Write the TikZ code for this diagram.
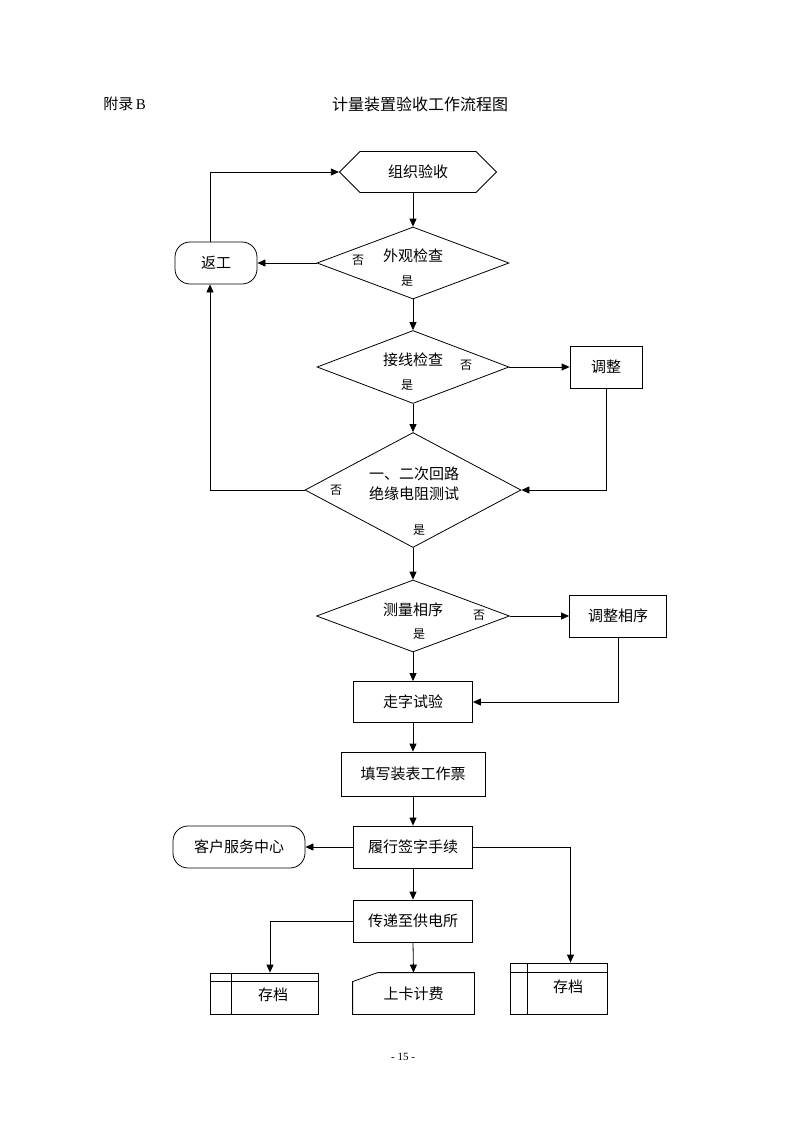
\documentclass[tikz,border=0pt]{standalone}
\usepackage{fontspec}
\setmainfont{Liberation Serif}
\newfontfamily\cjk{Noto Sans CJK SC}
\usetikzlibrary{shapes.geometric,shapes.symbols,positioning,arrows.meta}

\begin{document}
\begin{tikzpicture}[x=1pt,y=-1pt,line width=0.8pt,>={Triangle[length=8pt,width=7pt]},
                    every node/.style={font=\cjk\fontsize{15}{20}\selectfont},
                    judge/.style={diamond,draw=black,inner sep=0pt},
                    proc/.style={rectangle,draw=black,inner sep=0pt,minimum height=42},
                    term/.style={rectangle,rounded corners=15,draw=black,inner sep=0pt,minimum height=42},
                    start/.style={signal,signal to=west and east,signal pointer angle=90,draw=black,
                                  inner sep=0pt,minimum width=157,minimum height=41},
                    yn/.style={inner sep=0pt,font=\cjk\fontsize{12}{14}\selectfont}
                ]
    \useasboundingbox (0,0) rectangle (793,1122);
    % heading
    \node[anchor=west,inner sep=0pt] (fl) at (103,104) {附录\,{\rmfamily B}};
    \node[inner sep=0pt,font=\cjk\fontsize{16}{18}\selectfont] (title) at (420,104) {计量装置验收工作流程图};

    \node[start] (zzys) at (418,172) {组织验收};
    \node[judge,minimum width=192,minimum height=72] (wgjc) at (413,263) {};
    \node[term,minimum width=82] (fg) at (216,263) {返工};
    \node[judge,minimum width=192,minimum height=73] (jxjc) at (413,367) {};
    \node[proc,minimum width=72] (tz) at (606,367) {调整};
    \node[judge,minimum width=216,minimum height=115] (jyds) at (413,490) {};
    \node[judge,minimum width=193,minimum height=72] (clxx) at (413,616) {};
    \node[proc,minimum width=97] (tzxx) at (618,616) {调整相序};
    \node[proc,minimum width=119,minimum height=41] (zzsy) at (413,702) {走字试验};
    \node[proc,minimum width=144,minimum height=44] (txgp) at (413,774) {填写装表工作票};
    \node[proc,minimum width=119] (lxqz) at (413,847) {履行签字手续};
    \node[term,minimum width=132] (khfw) at (239,847) {客户服务中心};
    \node[proc,minimum width=119] (csgd) at (413,921) {传递至供电所};
    \node[proc,minimum width=108,minimum height=41] (cd1) at (264,993.5) {};
    \node[proc,minimum width=97,minimum height=51] (cd2) at (558.5,988.5) {};
    \node[rectangle,inner sep=0pt,minimum width=121,minimum height=41] (skjf) at (413.5,993.5) {上卡计费};

    % texts of the decisions
    \node[inner sep=0pt] (wgjcT) at (413,256) {外观检查};
    \node[yn] (wgjcN) at (358,260) {否};
    \node[yn] (wgjcY) at (407,281) {是};
    \node[inner sep=0pt] (jxjcT) at (413,360) {接线检查};
    \node[yn] (jxjcN) at (466,365) {否};
    \node[yn] (jxjcY) at (407,385) {是};
    \node[inner sep=0pt,align=center] (jydsT) at (414,484) {一、二次回路\\绝缘电阻测试};
    \node[yn] (jydsN) at (336,490) {否};
    \node[yn] (jydsY) at (419,530) {是};
    \node[inner sep=0pt] (clxxT) at (413,610) {测量相序};
    \node[yn] (clxxN) at (479,615) {否};
    \node[yn] (clxxY) at (419,634) {是};

    % archive boxes and card
    \draw ([yshift=-9]cd1.north west) -- ([yshift=-9]cd1.north east);
    \draw ([xshift=22]cd1.north west) -- ([xshift=22]cd1.south west);
    \node[inner sep=0pt] (cd1T) at (273,995) {存档};
    \draw ([yshift=-10]cd2.north west) -- ([yshift=-10]cd2.north east);
    \draw ([xshift=18]cd2.north west) -- ([xshift=18]cd2.south west);
    \node[inner sep=0pt] (cd2T) at (568,987) {存档};
    \draw (skjf.south west) -- ([yshift=-9]skjf.north west) -- ([xshift=25]skjf.north west)
          -- (skjf.north east) -- (skjf.south east) -- cycle;

    % connectors
    \draw[->] (zzys.south -| wgjc.north) -- (wgjc.north);
    \draw[->] (wgjc.west) -- (fg.east);
    \draw[->] ([xshift=-6]fg.north) |- (zzys.west);
    \draw[->] (wgjc.south) -- (jxjc.north);
    \draw[->] (jxjc.east) -- (tz.west);
    \draw[->] (jxjc.south) -- (jyds.north);
    \draw[->] (tz.south) |- (jyds.east);
    \draw[->] (jyds.west) -| ([xshift=-6]fg.south);
    \draw[->] (jyds.south) -- (clxx.north);
    \draw[->] (clxx.east) -- (tzxx.west);
    \draw[->] (clxx.south) -- (zzsy.north);
    \draw[->] (tzxx.south) |- (zzsy.east);
    \draw[->] (zzsy.south) -- (txgp.north);
    \draw[->] (txgp.south) -- (lxqz.north);
    \draw[->] (lxqz.west) -- (khfw.east);
    \draw[->] (lxqz.east) -| ([xshift=12]cd2.north);
    \draw[->] (lxqz.south) -- (csgd.north);
    \draw[->] (csgd.west) -| ([xshift=6]cd1.north);
    \draw[->] (csgd.south) -- (skjf.north);

    \node[inner sep=0pt,font=\rmfamily\fontsize{11}{12}\selectfont] (page) at (403,1057) {- 15 -};
\end{tikzpicture}
\end{document}
